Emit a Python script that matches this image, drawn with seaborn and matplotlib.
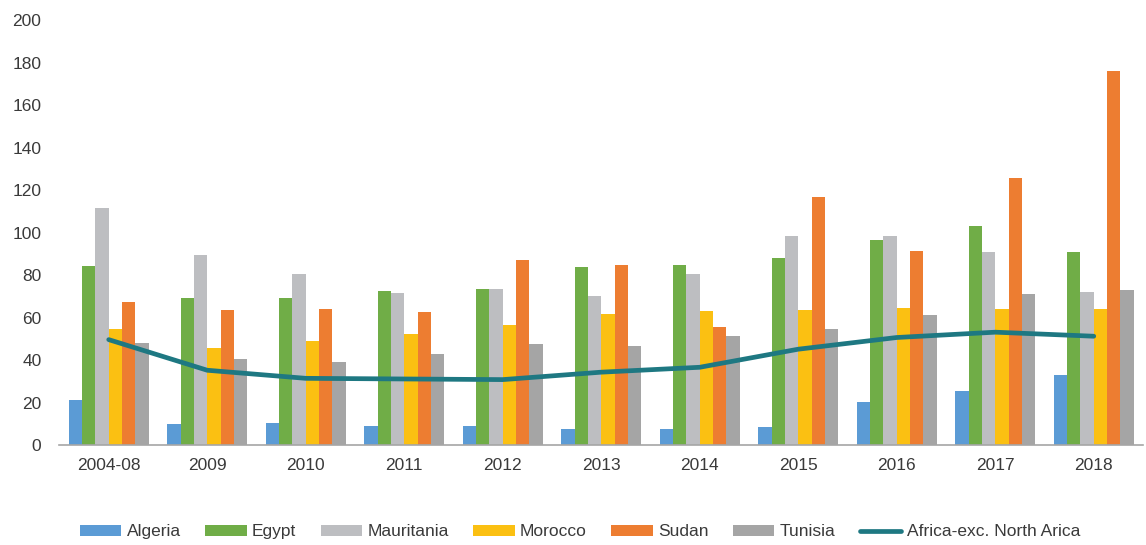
import numpy as np
import pandas as pd
import seaborn as sns
import matplotlib
matplotlib.use("Agg")
import matplotlib.pyplot as plt
from matplotlib.patches import Patch
from matplotlib.lines import Line2D

# Periods on the x axis
periods = ["2004-08", "2009", "2010", "2011", "2012", "2013", "2014",
           "2015", "2016", "2017", "2018"]

# Country series
algeria = [21.2, 9.9, 10.4, 9.2, 9.2, 7.5, 7.5, 8.5, 20.2, 25.4, 32.9]
egypt = [84.2, 69.2, 69.2, 72.5, 73.4, 83.8, 84.7, 88.0, 96.5, 103.0, 90.8]
mauritania = [111.4, 89.4, 80.5, 71.5, 73.4, 70.1, 80.5, 98.4, 98.4, 90.8, 72.0]
morocco = [54.6, 45.6, 49.0, 52.2, 56.5, 61.6, 63.1, 63.5, 64.5, 64.0, 64.0]
sudan = [67.3, 63.5, 64.2, 62.6, 87.1, 84.7, 55.5, 116.7, 91.3, 125.6, 176.0]
tunisia = [48.0, 40.5, 39.1, 42.8, 47.5, 46.6, 51.3, 54.6, 61.2, 71.1, 72.9]

# Aggregate line
africa_ex_na = [49.7, 35.3, 31.5, 31.2, 30.9, 34.4, 36.7, 45.2, 50.7, 53.2, 51.3]

countries = ["Algeria", "Egypt", "Mauritania", "Morocco", "Sudan", "Tunisia"]
series = [algeria, egypt, mauritania, morocco, sudan, tunisia]
colors = ["#5B9BD5", "#70AD47", "#BDBEC1", "#FBC012", "#ED7D31", "#A5A5A5"]
line_label = "Africa-exc. North Arica"
line_color = "#1E7882"

df = pd.DataFrame({
    "period": np.repeat([periods], len(countries), axis=0).ravel(),
    "country": np.repeat(countries, len(periods)),
    "value": np.concatenate(series),
})

sns.set_theme(style="white")
plt.rcParams["font.family"] = ["Liberation Sans", "DejaVu Sans"]
text_color = "#3A3A3A"

fig = plt.figure(figsize=(11.46, 5.45), dpi=100)
ax = fig.add_axes([0.0519, 0.1829, 0.9455, 0.7804])

sns.barplot(data=df, x="period", y="value", hue="country", order=periods,
            hue_order=countries, palette=colors, width=0.81, gap=0,
            saturation=1, linewidth=0, legend=False, ax=ax)

sns.lineplot(x=np.arange(len(periods)), y=africa_ex_na, color=line_color,
             linewidth=3.4, solid_capstyle="round", ax=ax)

ax.set_xlim(-0.5, len(periods) - 0.5)
ax.set_ylim(0, 200)
ax.set_yticks(np.arange(0, 201, 20))
ax.set_xlabel("")
ax.set_ylabel("")

for side in ["top", "right", "left"]:
    ax.spines[side].set_visible(False)
ax.spines["bottom"].set_color("#A6A6A6")
ax.spines["bottom"].set_linewidth(1.2)

ax.tick_params(axis="x", length=0, pad=9, labelsize=12.5, labelcolor=text_color)
ax.tick_params(axis="y", length=0, pad=13, labelsize=12.5, labelcolor=text_color)

handles = [Patch(facecolor=c, edgecolor="none", label=n) for n, c in zip(countries, colors)]
handles.append(Line2D([0], [0], color=line_color, linewidth=3.4,
                      solid_capstyle="round", label=line_label))
fig.legend(handles=handles, loc="center", bbox_to_anchor=(0.506, 0.024),
           ncol=len(handles), frameon=False, fontsize=12.5, labelcolor=text_color,
           handlelength=2.4, handleheight=0.55, handletextpad=0.3,
           columnspacing=1.4, borderaxespad=0)

fig.savefig("out.png", dpi=100)
